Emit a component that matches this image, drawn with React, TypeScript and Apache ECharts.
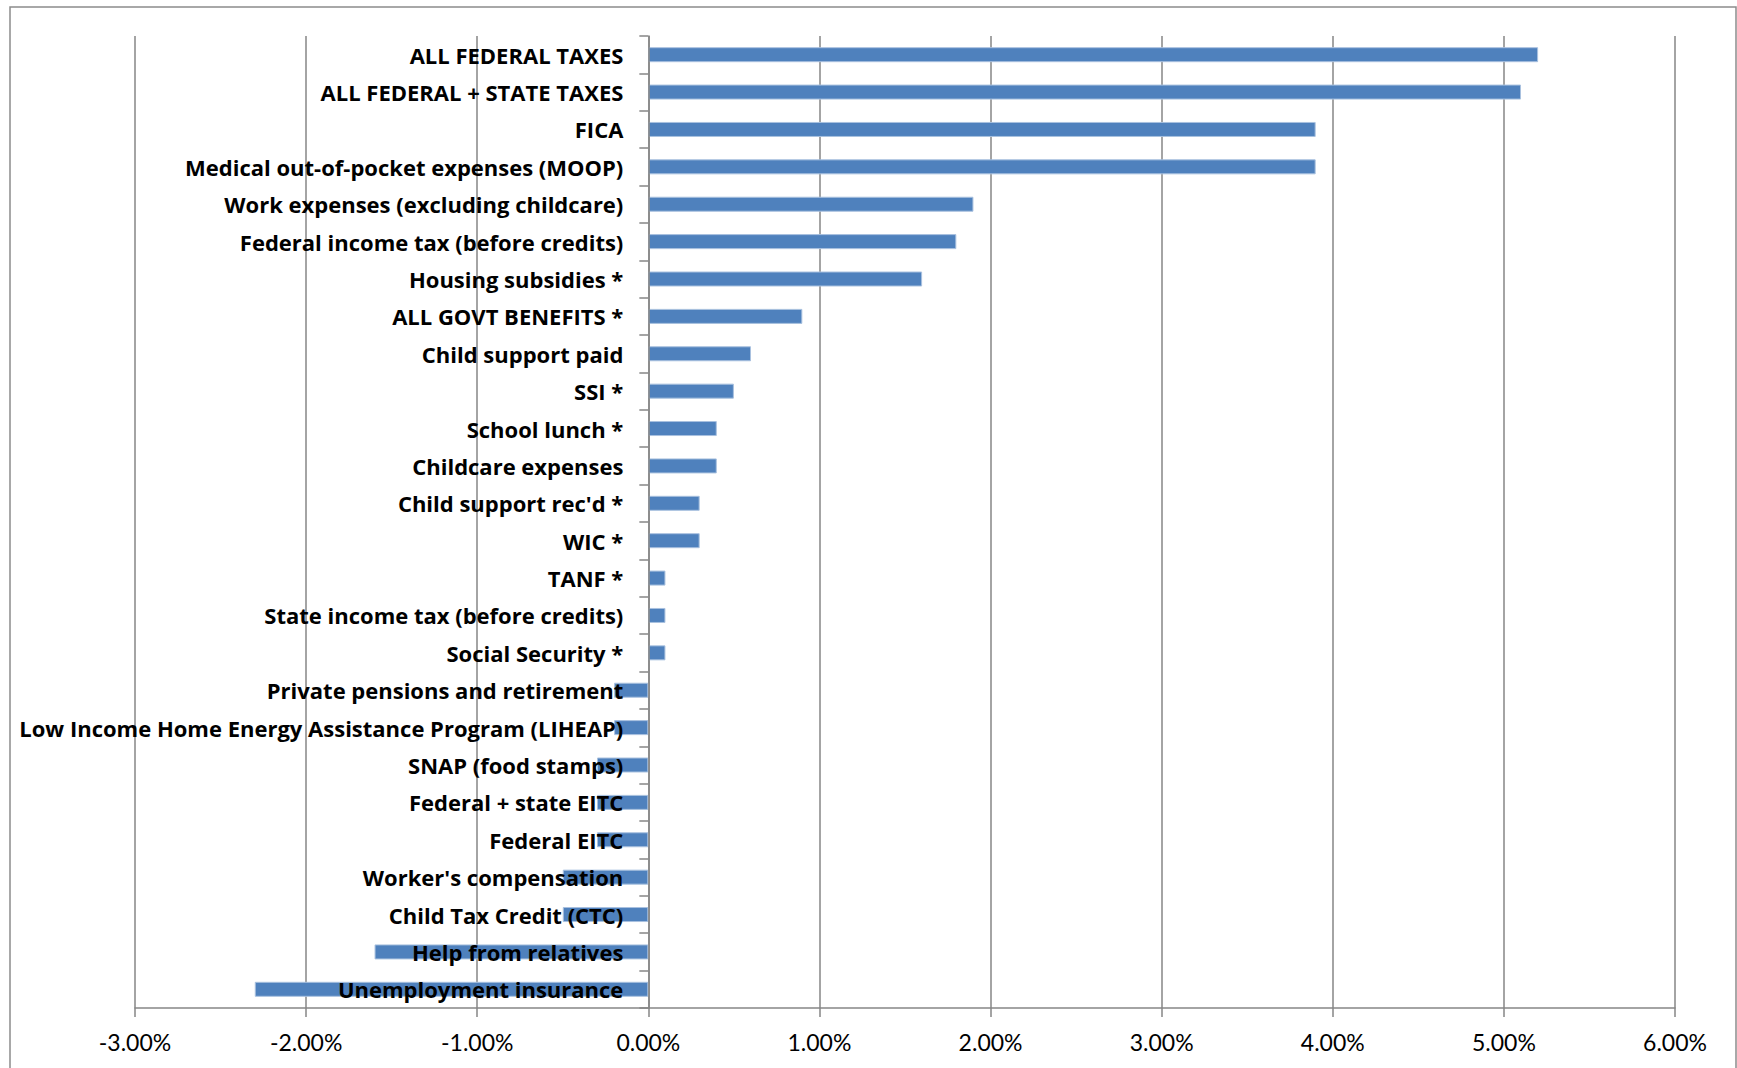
import React, { useEffect, useRef } from "react";
import * as echarts from "echarts";

const categories = [
  "ALL FEDERAL TAXES",
  "ALL FEDERAL + STATE TAXES",
  "FICA",
  "Medical out-of-pocket expenses (MOOP)",
  "Work expenses (excluding childcare)",
  "Federal income tax (before credits)",
  "Housing subsidies *",
  "ALL GOVT BENEFITS *",
  "Child support paid",
  "SSI *",
  "School lunch *",
  "Childcare expenses",
  "Child support rec'd *",
  "WIC *",
  "TANF *",
  "State income tax (before credits)",
  "Social Security *",
  "Private pensions and retirement",
  "Low Income Home Energy Assistance Program (LIHEAP)",
  "SNAP (food stamps)",
  "Federal + state EITC",
  "Federal EITC",
  "Worker's compensation",
  "Child Tax Credit (CTC)",
  "Help from relatives",
  "Unemployment insurance",
];

// values in percent
const values = [
  5.2, 5.1, 3.9, 3.9, 1.9, 1.8, 1.6, 0.9, 0.6, 0.5, 0.4, 0.4, 0.3, 0.3, 0.1,
  0.1, 0.1, -0.2, -0.2, -0.3, -0.3, -0.3, -0.5, -0.5, -1.6, -2.3,
];

const axisMin = -3;
const axisMax = 6;
const axisStep = 1;

const GRID_LEFT = 135;
const GRID_RIGHT = 62;
const WIDTH = 1737;
const HEIGHT = 1068;

export default function App() {
  const ref = useRef<HTMLDivElement>(null);
  useEffect(() => {
    if (!ref.current) return;
    const chart = echarts.init(ref.current, undefined, { renderer: "svg" });
    const plotW = WIDTH - GRID_LEFT - GRID_RIGHT;
    const zeroOffset = ((0 - axisMin) / (axisMax - axisMin)) * plotW;
    chart.setOption({
      animation: false,
      backgroundColor: "#ffffff",
      graphic: [
        {
          type: "rect",
          shape: { x: 10, y: 7, width: 1726, height: 1100 },
          style: { fill: "none", stroke: "#8c8c8c", lineWidth: 1.5 },
          silent: true,
        },
      ],
      grid: {
        left: GRID_LEFT,
        right: GRID_RIGHT,
        top: 36,
        bottom: 60,
        containLabel: false,
        outerBoundsMode: "none",
      },
      xAxis: {
        type: "value",
        min: axisMin,
        max: axisMax,
        interval: axisStep,
        axisLine: { show: true, lineStyle: { color: "#868686", width: 1.5 } },
        axisTick: { show: true, length: 9, lineStyle: { color: "#868686", width: 1.5 } },
        splitLine: { show: true, lineStyle: { color: "#868686", width: 1.5 } },
        axisLabel: {
          margin: 22,
          color: "#000",
          fontFamily: "Lato",
          fontSize: 23,
          formatter: (v: number) => v.toFixed(2) + "%",
        },
      },
      yAxis: {
        type: "category",
        inverse: true,
        data: categories,
        position: "left",
        offset: -zeroOffset,
        z: 10,
        axisLine: { show: true, onZero: false, lineStyle: { color: "#868686", width: 1.5 } },
        axisTick: { show: true, length: 9, lineStyle: { color: "#868686", width: 1.5 } },
        splitLine: { show: false },
        axisLabel: {
          margin: 25,
          color: "#000",
          fontFamily: "Open Sans",
          fontWeight: "bold",
          fontSize: 22,
        },
      },
      series: [
        {
          type: "bar",
          data: values,
          barWidth: 15,
          z: 2,
          itemStyle: { color: "#4F81BD", borderColor: "#a9c1df", borderWidth: 1 },
        },
      ],
    });
    return () => chart.dispose();
  }, []);
  return (
    <div
      ref={ref}
      style={{ position: "absolute", left: 0, top: 0, width: WIDTH, height: HEIGHT }}
    />
  );
}
